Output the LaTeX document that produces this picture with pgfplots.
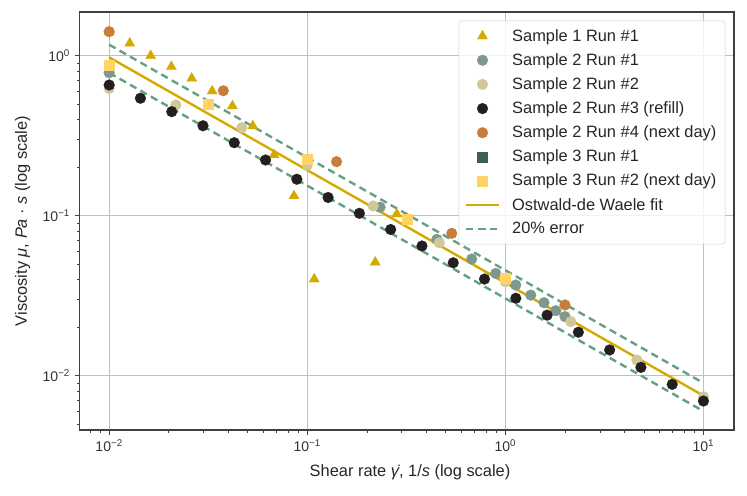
\documentclass[border=0pt]{standalone}
\usepackage{fontspec}
\setmainfont{Liberation Sans}
\usepackage{pgfplots}
\pgfplotsset{compat=1.18}

\definecolor{cTri}{RGB}{212,170,0}
\definecolor{cSa}{RGB}{125,152,141}
\definecolor{cSb}{RGB}{208,200,152}
\definecolor{cSc}{RGB}{35,30,31}
\definecolor{cSd}{RGB}{200,125,60}
\definecolor{cSe}{RGB}{62,96,82}
\definecolor{cSf}{RGB}{255,212,100}
\definecolor{cFit}{RGB}{212,170,0}
\definecolor{cErr}{RGB}{100,160,130}

\begin{document}
\begin{tikzpicture}[font=\fontsize{12.3}{14.5}\selectfont]
\begin{axis}[
  at={(59.6pt,49.5pt)}, anchor=south west,
  scale only axis, width=490.9pt, height=313.5pt,
  xmode=log, ymode=log,
  xmin=0.00708, xmax=14.26, ymin=0.00458, ymax=1.876,
  xtick={0.01,0.1,1,10},
  xticklabels={10\textsuperscript{−2},10\textsuperscript{−1},10\textsuperscript{0},10\textsuperscript{1}},
  ytick={0.01,0.1,1},
  yticklabels={10\textsuperscript{−2},10\textsuperscript{−1},10\textsuperscript{0}},
  minor xtick={0.008,0.009,0.02,0.03,0.04,0.05,0.06,0.07,0.08,0.09,0.2,0.3,0.4,0.5,0.6,0.7,0.8,0.9,2,3,4,5,6,7,8,9},
  minor ytick={0.005,0.006,0.007,0.008,0.009,0.02,0.03,0.04,0.05,0.06,0.07,0.08,0.09,0.2,0.3,0.4,0.5,0.6,0.7,0.8,0.9},
  tick label style={font=\fontsize{10.5}{12}\selectfont, text=black!80},
  tick align=outside, tick pos=left,
  major tick length=3.5pt, minor tick length=2pt,
  every tick/.style={black!75, line width=0.7pt},
  minor tick style={line width=0.5pt},
  xmajorgrids, ymajorgrids,
  major grid style={gray!50, line width=0.8pt},
  axis line style={black!75, line width=0.9pt},
  xlabel={Shear rate \textit{\.{γ}}, 1/\textit{s} (log scale)},
  ylabel={Viscosity \textit{μ}, \textit{Pa} · \textit{s} (log scale)},
  xlabel style={at={(axis description cs:0.505,-0.1005)}, anchor=center, text=black!85},
  ylabel style={at={(axis description cs:-0.087,0.5)}, anchor=center, rotate=0, text=black!85},
  legend image code/.code={\draw[mark repeat=2,mark phase=2,#1] plot coordinates {(0cm,0cm) (0.435cm,0cm) (0.87cm,0cm)};},
  legend image post style={opacity=1},
  legend style={at={(1,1)}, anchor=north east, xshift=-6.5pt, yshift=-6.5pt,
    draw=black!18, rounded corners=2pt, fill=white, fill opacity=0.8, text opacity=1,
    row sep=3.7pt, inner xsep=4.5pt, inner ysep=4.2pt,
    /tikz/every odd column/.append style={column sep=7pt},
    font=\fontsize{12.3}{14.5}\selectfont, text=black!85},
  legend cell align=left,
]
% Sample 1 Run #1
\addplot[only marks, mark=triangle*, mark size=4.5pt, color=cTri, mark options={draw=cTri, line width=0.1pt}] coordinates {
 (0.01,1.41) (0.0127,1.195) (0.0162,1.0) (0.0206,0.854) (0.0261,0.722) (0.0331,0.601)
 (0.0419,0.485) (0.0531,0.364) (0.0680,0.240) (0.0857,0.133) (0.1084,0.0402)
 (0.2203,0.0512) (0.2831,0.1025)};
\addlegendentry{Sample 1 Run \#1}
% Sample 2 Run #1
\addplot[only marks, mark=*, mark size=4.1pt, color=cSa, mark options={draw=cSa, line width=0.1pt}] coordinates {
 (0.01,0.783) (0.233,0.113) (0.451,0.0712) (0.676,0.0536) (0.894,0.0436) (1.128,0.0369)
 (1.343,0.0319) (1.567,0.0286) (1.797,0.0255) (2.0,0.0234)};
\addlegendentry{Sample 2 Run \#1}
% Sample 2 Run #2
\addplot[only marks, mark=*, mark size=4.1pt, color=cSb, mark options={draw=cSb, line width=0.1pt}] coordinates {
 (0.01,0.625) (0.0217,0.492) (0.0467,0.355) (0.1,0.207) (0.215,0.115) (0.464,0.0678)
 (1.0,0.0387) (2.14,0.0218) (4.61,0.01253) (10,0.00739)};
\addlegendentry{Sample 2 Run \#2}
% Sample 2 Run #3 (refill)
\addplot[only marks, mark=*, mark size=4.1pt, color=cSc, mark options={draw=cSc, line width=0.1pt}] coordinates {
 (0.01,0.656) (0.01438,0.542) (0.02069,0.447) (0.02976,0.365) (0.04281,0.286) (0.06158,0.223)
 (0.08859,0.169) (0.1274,0.130) (0.1833,0.1035) (0.2637,0.082) (0.3793,0.0647) (0.5456,0.0508)
 (0.7848,0.0402) (1.129,0.0305) (1.624,0.0239) (2.336,0.0187) (3.360,0.01449) (4.833,0.01128)
 (6.952,0.00883) (10,0.00695)};
\addlegendentry{Sample 2 Run \#3 (refill)}
% Sample 2 Run #4 (next day)
\addplot[only marks, mark=*, mark size=4.1pt, color=cSd, mark options={draw=cSd, line width=0.1pt}] coordinates {
 (0.01,1.413) (0.0377,0.604) (0.1406,0.2176) (0.536,0.0776) (2.0,0.0277)};
\addlegendentry{Sample 2 Run \#4 (next day)}
% Sample 3 Run #1
\addlegendimage{only marks, mark=square*, mark size=3.75pt, color=cSe, mark options={draw=cSe, line width=0.1pt}}
\addlegendentry{Sample 3 Run \#1}
% Sample 3 Run #2 (next day)
\addplot[only marks, mark=square*, mark size=3.75pt, color=cSf, mark options={draw=cSf, line width=0.1pt}] coordinates {
 (0.01,0.875) (0.0316,0.497) (0.1,0.225) (0.318,0.0953) (1.0,0.041)};
\addlegendentry{Sample 3 Run \#2 (next day)}
% fit
\addplot[cFit, line width=1.8pt] coordinates {(0.01,0.977) (10,0.0075)};
\addlegendentry{Ostwald-de Waele fit}
\addplot[cErr, line width=1.8pt, dash pattern=on 5.5pt off 3.5pt] coordinates {(0.01,1.172) (10,0.0090)};
\addlegendentry{20\% error}
\addplot[cErr, line width=1.8pt, dash pattern=on 5.5pt off 3.5pt, forget plot] coordinates {(0.01,0.782) (10,0.0060)};
\end{axis}
\pgfresetboundingbox
\useasboundingbox (0,0) rectangle (560.25pt,372pt);
\end{tikzpicture}
\end{document}
